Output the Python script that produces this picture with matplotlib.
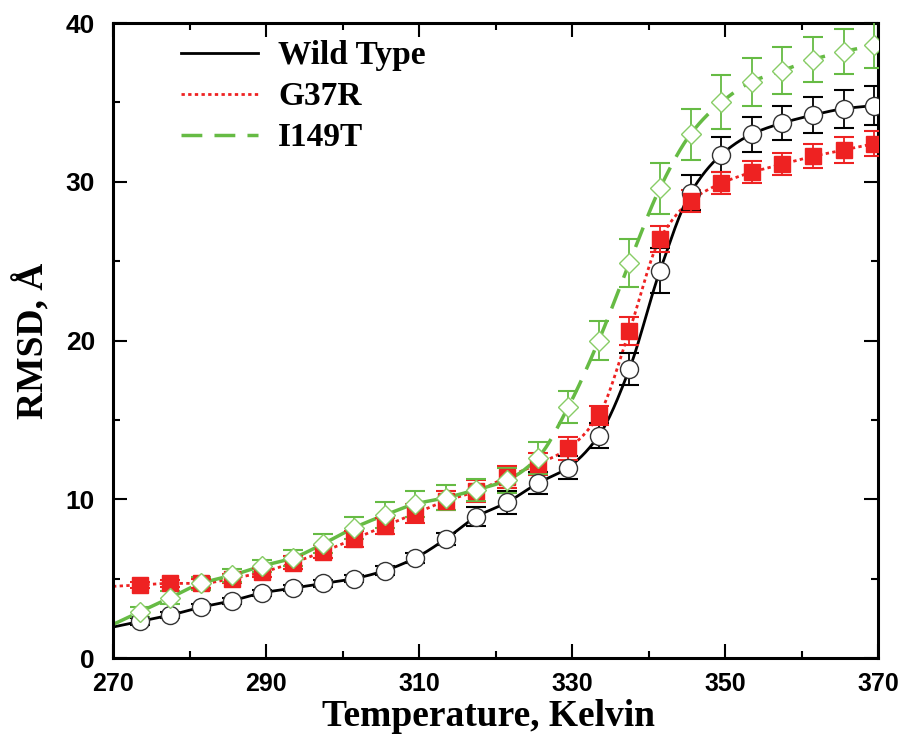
import numpy as np
import matplotlib
matplotlib.use("Agg")
import matplotlib.pyplot as plt
from matplotlib.ticker import MultipleLocator

temps = [273.5, 277.5, 281.5, 285.5, 289.5, 293.5, 297.5, 301.5, 305.5, 309.5,
         313.5, 317.5, 321.5, 325.5, 329.5, 333.5, 337.5, 341.5, 345.5, 349.5,
         353.5, 357.5, 361.5, 365.5, 369.5]

wt = [2.3, 2.7, 3.2, 3.6, 4.1, 4.4, 4.7, 5.0, 5.5, 6.3,
      7.5, 8.9, 9.8, 11.0, 12.0, 14.0, 18.2, 24.4, 29.3, 31.7,
      33.0, 33.7, 34.2, 34.6, 34.8]
wt_err = [0.2, 0.2, 0.2, 0.2, 0.2, 0.2, 0.2, 0.2, 0.3, 0.3,
          0.4, 0.6, 0.7, 0.7, 0.7, 0.8, 1.0, 1.4, 1.1, 1.1,
          1.1, 1.1, 1.15, 1.2, 1.25]

g37r = [4.6, 4.7, 4.7, 5.0, 5.4, 6.0, 6.7, 7.5, 8.3, 9.1,
        9.9, 10.5, 11.4, 12.2, 13.2, 15.3, 20.6, 26.4, 28.8, 29.9,
        30.6, 31.1, 31.6, 32.0, 32.4]
g37r_err = [0.2, 0.2, 0.3, 0.3, 0.3, 0.4, 0.4, 0.5, 0.5, 0.6,
            0.6, 0.7, 0.7, 0.7, 0.7, 0.6, 0.9, 0.8, 0.7, 0.7,
            0.7, 0.7, 0.75, 0.8, 0.8]

i149t = [2.9, 3.8, 4.7, 5.2, 5.8, 6.3, 7.2, 8.2, 9.0, 9.7,
         10.1, 10.6, 11.2, 12.6, 15.8, 20.0, 24.9, 29.6, 33.0, 35.0,
         36.3, 37.0, 37.7, 38.2, 38.6]
i149t_err = [0.3, 0.4, 0.4, 0.4, 0.4, 0.5, 0.6, 0.7, 0.8, 0.8,
             0.8, 0.7, 0.8, 1.0, 1.0, 1.2, 1.5, 1.6, 1.6, 1.7,
             1.5, 1.5, 1.4, 1.4, 1.45]

x_ticks = [270, 290, 310, 330, 350, 370]
y_ticks = [0, 10, 20, 30, 40]


def pchip(x, y, xn):
    x = np.asarray(x, float); y = np.asarray(y, float)
    h = np.diff(x); d = np.diff(y) / h
    m = np.zeros_like(y)
    for k in range(1, len(x) - 1):
        if d[k - 1] * d[k] > 0:
            w1 = 2 * h[k] + h[k - 1]; w2 = h[k] + 2 * h[k - 1]
            m[k] = (w1 + w2) / (w1 / d[k - 1] + w2 / d[k])
    m[0] = d[0]; m[-1] = d[-1]
    out = np.empty_like(xn)
    for i, xv in enumerate(xn):
        if xv <= x[0]:
            out[i] = y[0] + m[0] * (xv - x[0]); continue
        if xv >= x[-1]:
            out[i] = y[-1] + m[-1] * (xv - x[-1]); continue
        k = np.searchsorted(x, xv) - 1
        t = (xv - x[k]) / h[k]
        h00 = 2 * t**3 - 3 * t**2 + 1; h10 = t**3 - 2 * t**2 + t
        h01 = -2 * t**3 + 3 * t**2; h11 = t**3 - t**2
        out[i] = h00 * y[k] + h10 * h[k] * m[k] + h01 * y[k + 1] + h11 * h[k] * m[k + 1]
    return out


fig = plt.figure(figsize=(9.01, 7.35), dpi=100)
ax = fig.add_axes([113 / 901, 1 - 658 / 735, (878 - 113) / 901, (658 - 23) / 735])

xs = np.linspace(270, 370, 600)
red = "#ee2222"
green = "#66bb44"
lgreen = "#88cc66"

l1, = ax.plot(xs, pchip(temps, wt, xs), color="black", lw=2.0, zorder=2)
l2, = ax.plot(xs, pchip(temps, g37r, xs), color=red, lw=2.0, ls=(0, (1.2, 1.2)), zorder=2)
l3, = ax.plot(xs, pchip(temps, i149t, xs), color=green, lw=2.5, ls=(0, (6, 3.5)), zorder=2)

ax.errorbar(temps, wt, yerr=wt_err, fmt="none", ecolor="black", elinewidth=1.3,
            capsize=7, capthick=1.5, zorder=3)
ax.errorbar(temps, g37r, yerr=g37r_err, fmt="none", ecolor=red, elinewidth=1.3,
            capsize=7, capthick=1.5, zorder=3)
ax.errorbar(temps, i149t, yerr=i149t_err, fmt="none", ecolor=green, elinewidth=1.3,
            capsize=7, capthick=1.5, zorder=3)

ax.plot(temps, wt, ls="none", marker="o", ms=13, mfc="white", mec="#333333", mew=1.0, zorder=4)
ax.plot(temps, g37r, ls="none", marker="s", ms=11.5, mfc=red, mec=red, mew=1.0, zorder=4)
ax.plot(temps, i149t, ls="none", marker="D", ms=10.5, mfc="white", mec=lgreen, mew=1.0, zorder=5)

ax.set_xlim(270, 370)
ax.set_ylim(0, 40)
ax.set_xticks(x_ticks)
ax.set_yticks(y_ticks)
ax.xaxis.set_minor_locator(MultipleLocator(10))
ax.yaxis.set_minor_locator(MultipleLocator(5))
ax.tick_params(which="both", direction="in", top=True, right=True, width=1.5)
ax.tick_params(which="major", length=10)
ax.tick_params(which="minor", length=5)
ax.tick_params(axis="x", which="major", pad=10)
ax.tick_params(axis="y", which="major", pad=13)
for s in ax.spines.values():
    s.set_linewidth(2.2)

xtickfont = dict(family=["Liberation Sans", "DejaVu Sans"], weight="bold", size=18)
ytickfont = dict(family=["Liberation Sans", "DejaVu Sans"], weight="bold", size=19)
ax.set_xticklabels([str(v) for v in x_ticks], fontdict=xtickfont)
ax.set_yticklabels([str(v) for v in y_ticks], fontdict=ytickfont)

ax.set_xlabel("Temperature, Kelvin",
              fontdict=dict(family=["Liberation Serif", "DejaVu Serif"], weight="bold", size=27),
              labelpad=0)
ax.xaxis.set_label_coords(0.491, -0.065)
ax.set_ylabel("RMSD, Å",
              fontdict=dict(family=["Liberation Serif", "DejaVu Serif"], weight="bold", size=27),
              labelpad=10)

leg = ax.legend([l1, l2, l3], ["Wild Type", "G37R", "I149T"], loc="upper left",
                bbox_to_anchor=(0.05, 1.02), frameon=False, handlelength=2.3,
                handletextpad=0.6, labelspacing=0.3,
                prop=dict(family=["Liberation Serif", "DejaVu Serif"], weight="bold", size=24))

fig.savefig("out.png", dpi=100)
